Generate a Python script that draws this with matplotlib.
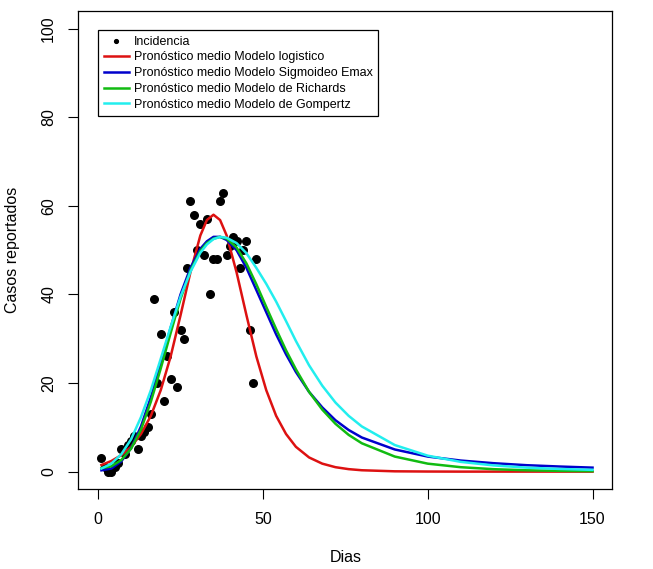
import matplotlib
matplotlib.use("Agg")
import matplotlib.pyplot as plt

plt.rcParams['font.family'] = ['Liberation Sans', 'DejaVu Sans']

# observed daily incidence
dias_obs = list(range(1, 49))
incidencia = [3, 1, 0, 0, 1, 2, 5, 4, 6, 7, 8, 5, 8, 9, 10, 13, 39, 20, 31, 16,
              26, 21, 36, 19, 32, 30, 46, 61, 58, 50, 56, 49, 57, 40, 48, 48, 61, 63,
              49, 51, 53, 52, 46, 50, 52, 32, 20, 48]

# mean forecasts
dias_pron = [1, 4, 7, 10, 13, 16, 19, 22, 25, 28, 31, 33, 35, 37, 39, 42, 45, 48,
             51, 54, 57, 60, 64, 68, 72, 76, 80, 90, 100, 110, 120, 130, 140, 150]
logistico = [1.5, 2.4, 3.7, 5.6, 8.5, 12.6, 18.4, 26.0, 35.3, 45.0, 53.3, 56.8, 58.0,
             56.8, 53.3, 45.0, 35.3, 26.0, 18.4, 12.6, 8.5, 5.6, 3.2, 1.8, 1.0, 0.56,
             0.31, 0.07, 0.02, 0.0, 0.0, 0.0, 0.0, 0.0]
emax = [0.3, 0.7, 2.3, 5.3, 10.2, 16.8, 24.5, 32.5, 40.0, 46.0, 50.3, 52.0, 53.0,
        53.0, 52.3, 50.0, 46.0, 41.0, 36.0, 31.0, 26.5, 22.5, 18.0, 14.5, 11.6, 9.4,
        7.7, 5.0, 3.4, 2.5, 1.9, 1.45, 1.15, 0.9]
richards = [0.8, 1.2, 2.6, 5.2, 9.5, 15.8, 23.3, 31.3, 39.0, 45.4, 49.8, 51.6, 52.6,
            53.0, 52.6, 50.6, 47.0, 42.3, 37.2, 32.2, 27.4, 23.1, 18.0, 14.0, 10.8,
            8.3, 6.4, 3.4, 1.8, 1.0, 0.55, 0.3, 0.17, 0.1]
gompertz = [0.7, 1.8, 3.9, 7.3, 12.3, 18.4, 25.5, 32.7, 39.5, 45.1, 49.4, 51.3, 52.5,
            53.0, 52.8, 51.6, 49.3, 46.0, 42.4, 38.4, 34.0, 29.5, 24.0, 19.4, 15.6,
            12.6, 10.2, 6.0, 3.6, 2.2, 1.4, 0.9, 0.6, 0.4]

fig = plt.figure(figsize=(6.53, 5.69), dpi=100)
ax = fig.add_axes([0.12, 0.14, 0.8177, 0.8407])

ax.scatter(dias_obs, incidencia, s=30, color='black', zorder=1, label='Incidencia')
lw = 1.8
ax.plot(dias_pron, logistico, color='#dd1111', lw=lw, zorder=2,
        label='Pronóstico medio Modelo logistico')
ax.plot(dias_pron, emax, color='#0000cc', lw=lw, zorder=2,
        label='Pronóstico medio Modelo Sigmoideo Emax')
ax.plot(dias_pron, richards, color='#11bb11', lw=lw, zorder=2,
        label='Pronóstico medio Modelo de Richards')
ax.plot(dias_pron, gompertz, color='#22eeee', lw=lw, zorder=2,
        label='Pronóstico medio Modelo de Gompertz')

ax.set_xlim(-6, 156)
ax.set_ylim(-4, 104)
ax.set_xticks([0, 50, 100, 150])
ax.set_yticks([0, 20, 40, 60, 80, 100])
ax.tick_params(direction='out', length=7, width=0.8, labelsize=11.5, pad=9)
for lab in ax.get_yticklabels():
    lab.set_rotation(90)
    lab.set_va('center')
for s in ax.spines.values():
    s.set_linewidth(0.9)

ax.set_xlabel('Dias', fontsize=11.5, labelpad=17)
ax.set_ylabel('Casos reportados', fontsize=11.5, labelpad=15)

leg = ax.legend(loc='upper left', bbox_to_anchor=(0.037, 0.96), fontsize=9,
                frameon=True, fancybox=False, edgecolor='black', framealpha=1,
                handlelength=2.0, handletextpad=0.4, labelspacing=0.3,
                borderpad=0.45, markerscale=0.5, borderaxespad=0)
leg.get_frame().set_linewidth(0.9)

fig.savefig('out.png', dpi=100)
